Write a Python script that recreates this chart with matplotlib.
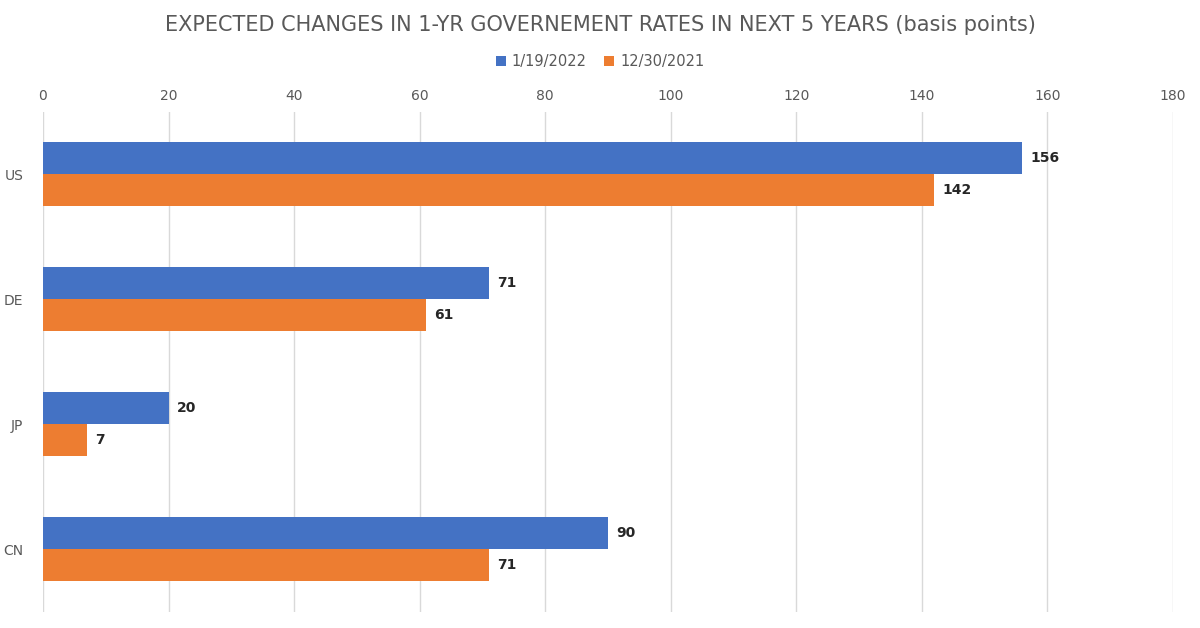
import matplotlib.pyplot as plt
import numpy as np

countries = ["US", "DE", "JP", "CN"]
jan_2022 = [156, 71, 20, 90]
dec_2021 = [142, 61, 7, 71]
series_names = ["1/19/2022", "12/30/2021"]

blue = "#4472C4"
orange = "#ED7D31"

fig = plt.figure(figsize=(12, 6.28), dpi=100)
ax = fig.add_axes([0.0358, 0.0255, 0.9417, 0.7965])

y = np.arange(len(countries))
h = 0.256
b1 = ax.barh(y - h / 2, jan_2022, height=h, color=blue, label=series_names[0], zorder=3)
b2 = ax.barh(y + h / 2, dec_2021, height=h, color=orange, label=series_names[1], zorder=3)

for bars, vals in [(b1, jan_2022), (b2, dec_2021)]:
    for bar, v in zip(bars, vals):
        ax.text(v + 1.3, bar.get_y() + bar.get_height() / 2, str(v),
                va="center", ha="left", fontsize=10, fontweight="bold", color="#262626")

ax.set_ylim(len(countries) - 0.5, -0.5)
ax.set_xlim(0, 180)
ax.set_xticks(range(0, 181, 20))
ax.set_yticks(y)
ax.set_yticklabels(countries)
ax.xaxis.tick_top()
ax.tick_params(axis="both", length=0, labelsize=10, colors="#595959")
ax.tick_params(axis="x", pad=6)
ax.tick_params(axis="y", pad=14)
ax.grid(axis="x", color="#d9d9d9", linewidth=1, zorder=0)
for s in ax.spines.values():
    s.set_visible(False)

fig.text(0.5, 0.96, "EXPECTED CHANGES IN 1-YR GOVERNEMENT RATES IN NEXT 5 YEARS (basis points)",
         ha="center", va="center", fontsize=15, color="#595959")
fig.legend(handles=[b1, b2], labels=series_names, loc="center", bbox_to_anchor=(0.5, 0.902),
           ncol=2, frameon=False, fontsize=10.5, handlelength=0.7, handleheight=0.7,
           columnspacing=1.2, handletextpad=0.4, labelcolor="#595959")

fig.savefig("out.png", dpi=100)
